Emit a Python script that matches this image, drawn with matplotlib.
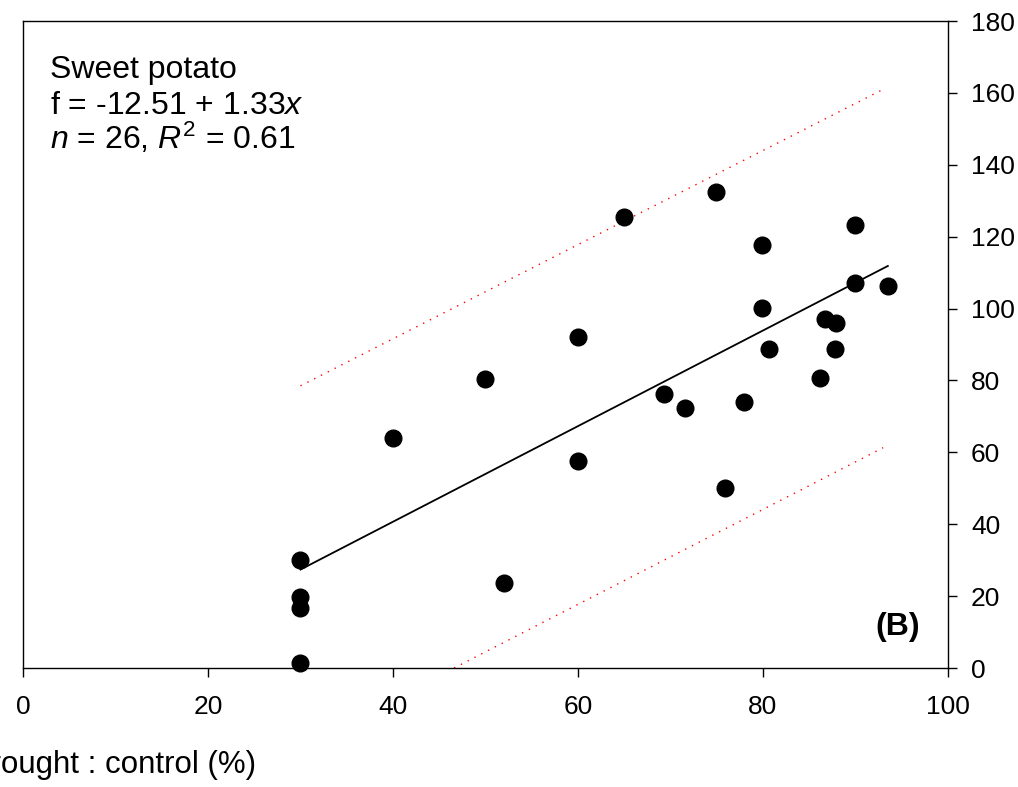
import numpy as np
import matplotlib
matplotlib.use("Agg")
import matplotlib.pyplot as plt

plt.rcParams['font.family'] = ['Liberation Sans', 'DejaVu Sans']
plt.rcParams['mathtext.fontset'] = 'custom'
plt.rcParams['mathtext.rm'] = 'Liberation Sans'
plt.rcParams['mathtext.it'] = 'Liberation Sans:italic'

# drought : control (%) vs yield ratio, sweet potato
x_vals = [30, 30, 30, 30, 40, 50, 52, 60, 60, 65, 69.3, 71.6, 74.9, 75.9,
          77.9, 79.9, 79.9, 80.7, 86.2, 86.7, 87.9, 87.8, 89.9, 89.9, 93.5]
y_vals = [30.0, 19.8, 16.7, 1.4, 64.0, 80.4, 23.6, 92.1, 57.6, 125.5, 76.2,
          72.4, 132.3, 50.2, 73.9, 117.7, 100.1, 88.7, 80.8, 97.0, 95.9,
          88.8, 123.3, 107.0, 106.4]

# fitted line f = -12.51 + 1.33x
fit_x = [30, 93.5]
fit_y = [27.39, 111.85]

# prediction band (dotted red)
upper_x = [30, 93]
upper_y = [78.5, 161.0]
lower_x = [46.6, 93]
lower_y = [0.0, 61.3]

x_ticks = [0, 20, 40, 60, 80, 100]
y_ticks = [0, 20, 40, 60, 80, 100, 120, 140, 160, 180]

fig = plt.figure(figsize=(10.18, 7.87), dpi=100)
ax = fig.add_axes([0.0226, 0.1512, 0.9086, 0.8221])

ax.plot(upper_x, upper_y, color='red', lw=1.0, linestyle=(0, (1, 4.5)))
ax.plot(lower_x, lower_y, color='red', lw=1.0, linestyle=(0, (1, 4.5)))
ax.plot(fit_x, fit_y, color='black', lw=1.3)
ax.plot(x_vals, y_vals, 'o', color='black', markersize=12, clip_on=False)

ax.set_xlim(0, 100)
ax.set_ylim(0, 180)
ax.set_xticks(x_ticks)
ax.set_yticks(y_ticks)

ax.yaxis.tick_right()
ax.tick_params(axis='both', direction='out', length=6.5, width=1.0,
               labelsize=19)
ax.tick_params(axis='x', pad=13)
ax.tick_params(axis='y', pad=10)
for s in ax.spines.values():
    s.set_linewidth(1.0)

ax.text(0.0491, 0.9009, 'Sweet potato', transform=fig.transFigure,
        fontsize=23, va='baseline')
ax.text(0.0491, 0.8551, 'f = -12.51 + 1.33$x$', transform=fig.transFigure,
        fontsize=23, va='baseline')
ax.text(0.0491, 0.8107, '$n$ = 26, $R^2$ = 0.61', transform=fig.transFigure,
        fontsize=23, va='baseline')
ax.text(0.97, 0.04, '(B)', transform=ax.transAxes, fontsize=23,
        fontweight='bold', ha='right', va='bottom')

fig.text(-0.031, 0.028, 'Drought : control (%)', fontsize=22.5, ha='left',
         va='center')

fig.savefig('out.png', dpi=100)
